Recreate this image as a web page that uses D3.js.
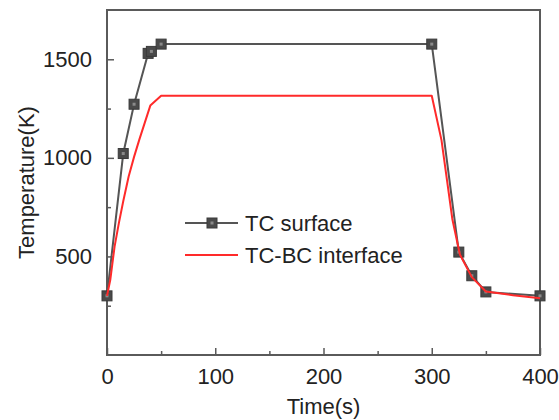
<!DOCTYPE html>
<html>
<head>
<meta charset="utf-8">
<script src="https://cdn.jsdelivr.net/npm/d3@7/dist/d3.min.js"></script>
<style>
  html, body { margin: 0; padding: 0; background: #fff; }
  svg { display: block; }
  text { font-family: "Liberation Sans", Arial, sans-serif; fill: #222; }
</style>
</head>
<body>
<svg id="chart" width="559" height="420"></svg>
<script>
// Thermal cycle: temperature of the TC surface and the TC-BC interface
const surfaceTime = [0, 15, 25, 38, 41, 50, 300, 325, 337, 350, 400];
const surfaceTemp = [300, 1022, 1272, 1530, 1540, 1577, 1577, 522, 402, 320, 300];

const interfaceTime = [0, 3, 7, 11, 15, 20, 25, 30, 35, 40, 50, 300, 309, 319, 326, 337, 350, 375, 400];
const interfaceTemp = [300, 380, 550, 670, 780, 905, 1005, 1095, 1180, 1265, 1315, 1315, 1090, 690, 510, 395, 322, 303, 288];

const xTicks = [0, 100, 200, 300, 400];
const xMinor = [50, 150, 250, 350];
const yTicks = [500, 1000, 1500];
const yMinor = [250, 750, 1250];

const seriesNames = ["TC surface", "TC-BC interface"];

const svg = d3.select("#chart");
const margin = { left: 107, right: 19, top: 10, bottom: 65 };
const W = 559, H = 420;
const fontSize = 22;

const x = d3.scaleLinear().domain([0, 400]).range([margin.left, W - margin.right]);
const y = d3.scaleLinear().domain([0, 1750]).range([H - margin.bottom, margin.top]);

const axisColor = "#5a5a5a";

// frame
svg.append("rect")
  .attr("x", x(0)).attr("y", y(1750))
  .attr("width", x(400) - x(0)).attr("height", y(0) - y(1750))
  .attr("fill", "none").attr("stroke", axisColor).attr("stroke-width", 2);

// bottom axis, ticks pointing inward
const xAxis = svg.append("g").attr("transform", `translate(0,${y(0)})`)
  .call(d3.axisBottom(x).tickValues(xTicks).tickFormat(d3.format("d"))
    .tickSizeInner(-7).tickSizeOuter(0).tickPadding(13));
xAxis.append("g").call(d3.axisBottom(x).tickValues(xMinor).tickSizeInner(-4).tickSizeOuter(0).tickFormat(""));
xAxis.selectAll(".domain").remove();
xAxis.selectAll("line").attr("stroke", axisColor).attr("stroke-width", 1.5);
xAxis.selectAll("text").attr("font-size", fontSize).attr("fill", "#222")
  .attr("font-family", "Liberation Sans, Arial, sans-serif");

// left axis
const yAxis = svg.append("g").attr("transform", `translate(${x(0)},0)`)
  .call(d3.axisLeft(y).tickValues(yTicks).tickFormat(d3.format("d"))
    .tickSizeInner(-7).tickSizeOuter(0).tickPadding(15));
yAxis.append("g").call(d3.axisLeft(y).tickValues(yMinor).tickSizeInner(-4).tickSizeOuter(0).tickFormat(""));
yAxis.selectAll(".domain").remove();
yAxis.selectAll("line").attr("stroke", axisColor).attr("stroke-width", 1.5);
yAxis.selectAll("text").attr("font-size", fontSize).attr("fill", "#222")
  .attr("font-family", "Liberation Sans, Arial, sans-serif");

// axis titles
svg.append("text")
  .attr("x", (x(0) + x(400)) / 2).attr("y", 414)
  .attr("text-anchor", "middle").attr("font-size", fontSize)
  .text("Time(s)");
svg.append("text")
  .attr("transform", `translate(34,${(y(0) + y(1750)) / 2}) rotate(-90)`)
  .attr("text-anchor", "middle").attr("font-size", fontSize)
  .text("Temperature(K)");

const line = d3.line().x(d => x(d[0])).y(d => y(d[1]));
const surfaceData = surfaceTime.map((t, i) => [t, surfaceTemp[i]]);
const interfaceData = interfaceTime.map((t, i) => [t, interfaceTemp[i]]);

const plot = svg.append("g");

// TC surface line
plot.append("path").datum(surfaceData)
  .attr("d", line).attr("fill", "none")
  .attr("stroke", "#555").attr("stroke-width", 2);

// square markers with a lighter centre
function drawMarker(g, cx, cy) {
  g.append("rect").attr("x", cx - 5).attr("y", cy - 5).attr("width", 10).attr("height", 10)
    .attr("fill", "#4a4a4a").attr("stroke", "#3a3a3a").attr("stroke-width", 1);
  g.append("rect").attr("x", cx - 1.5).attr("y", cy - 1.5).attr("width", 3).attr("height", 3)
    .attr("fill", "#8a8a8a");
}
const markers = plot.append("g");
surfaceData.forEach(d => drawMarker(markers, x(d[0]), y(d[1])));

// TC-BC interface line (drawn on top)
plot.append("path").datum(interfaceData)
  .attr("d", line)
  .attr("fill", "none")
  .attr("stroke", "#ff2a2a").attr("stroke-width", 2).attr("stroke-linejoin", "round");

// legend
const lg = svg.append("g");
lg.append("line").attr("x1", 185).attr("x2", 238).attr("y1", 223).attr("y2", 223)
  .attr("stroke", "#555").attr("stroke-width", 2);
drawMarker(lg, 212, 223);
lg.append("text").attr("x", 245).attr("y", 231).attr("font-size", fontSize).text(seriesNames[0]);
lg.append("line").attr("x1", 185).attr("x2", 238).attr("y1", 255).attr("y2", 255)
  .attr("stroke", "#ff2a2a").attr("stroke-width", 2);
lg.append("text").attr("x", 245).attr("y", 263).attr("font-size", fontSize).text(seriesNames[1]);
</script>
</body>
</html>
